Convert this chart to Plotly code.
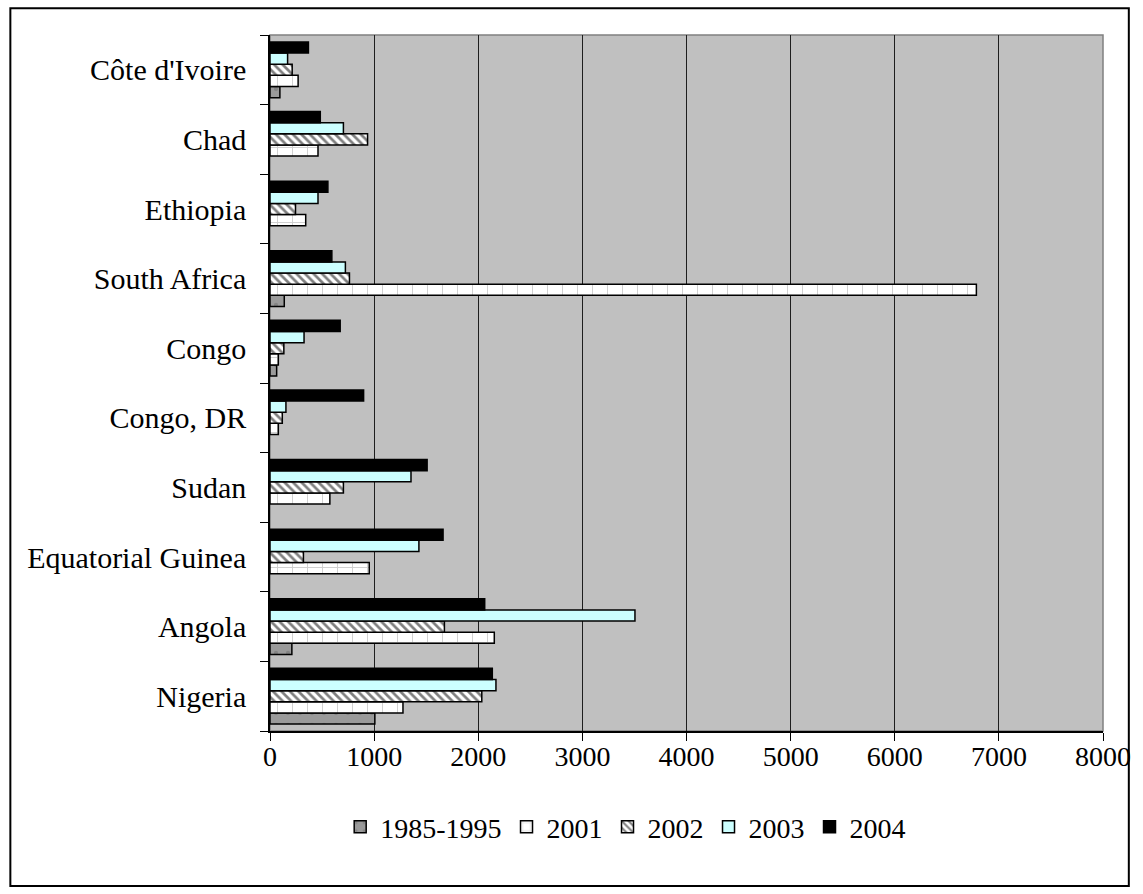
import plotly.graph_objects as go

countries = ["Nigeria", "Angola", "Equatorial Guinea", "Sudan", "Congo, DR",
             "Congo", "South Africa", "Ethiopia", "Chad", "Côte d'Ivoire"]

v_1985_1995 = [1007, 210, None, None, None, 64, 137, None, None, 95]
v_2001 = [1277, 2154, 953, 575, 80, 80, 6784, 343, 461, 270]
v_2002 = [2034, 1675, 321, 705, 118, 133, 763, 245, 937, 213]
v_2003 = [2170, 3505, 1430, 1354, 153, 327, 724, 461, 705, 169]
v_2004 = [2135, 2062, 1662, 1509, 899, 674, 594, 556, 483, 369]

x_ticks = [0, 1000, 2000, 3000, 4000, 5000, 6000, 7000, 8000]

FONT = "Liberation Serif, Times New Roman, serif"
edge = dict(color="black", width=1.5)

series = [
    ("1985-1995", v_1985_1995,
     dict(color="#9a9a9a", line=edge,
          pattern=dict(shape=".", fgcolor="#6e6e6e", bgcolor="#9a9a9a", size=12, solidity=0.1))),
    ("2001", v_2001,
     dict(color="white", line=edge,
          pattern=dict(shape="+", fgcolor="#9a9a9a", bgcolor="white", size=15, solidity=0.12))),
    ("2002", v_2002,
     dict(color="white", line=edge,
          pattern=dict(shape="\\", fgcolor="black", bgcolor="white", size=6, solidity=0.45))),
    ("2003", v_2003, dict(color="#ccffff", line=edge)),
    ("2004", v_2004, dict(color="black", line=edge)),
]

fig = go.Figure()
for name, vals, marker in series:
    fig.add_trace(go.Bar(
        y=countries, x=vals, name=name, orientation="h",
        marker=marker,
    ))

# plot frame and the outer chart border
fig.add_shape(type="rect", xref="paper", yref="paper", x0=0, x1=1, y0=0, y1=1,
              line=dict(color="#808080", width=1.5), layer="below")
fig.add_shape(type="rect", xref="paper", yref="paper",
              x0=-0.3117, x1=1.0310, y0=-0.2227, y1=1.0385,
              line=dict(color="black", width=2))

fig.update_layout(
    width=1143, height=894,
    margin=dict(l=270, r=34, t=35, b=163),
    paper_bgcolor="white",
    plot_bgcolor="#c0c0c0",
    barmode="group",
    bargap=0.2,
    bargroupgap=0,
    font=dict(family=FONT, size=28, color="black"),
    showlegend=True,
    legend=dict(
        orientation="h",
        x=0.427, xanchor="center",
        y=-0.138, yanchor="middle",
        font=dict(family=FONT, size=28, color="black"),
        itemwidth=30,
        traceorder="normal",
        bgcolor="rgba(0,0,0,0)",
    ),
    xaxis=dict(
        range=[0, 8000],
        tickvals=x_ticks,
        ticktext=[str(t) for t in x_ticks],
        showgrid=True, gridcolor="#1e1e1e", gridwidth=1,
        zeroline=False,
        showline=True, linecolor="black", linewidth=1.5,
        ticks="outside", ticklen=8, tickcolor="black", tickwidth=1,
        tickfont=dict(family=FONT, size=28),
        ticklabelstandoff=-8,
    ),
    yaxis=dict(
        type="category",
        categoryorder="array", categoryarray=countries,
        showgrid=False,
        showline=True, linecolor="black", linewidth=1.5,
        ticks="outside", ticklen=8, tickcolor="black", tickwidth=1,
        tickson="boundaries",
        tickfont=dict(family=FONT, size=30),
        ticklabelstandoff=16,
    ),
)

fig.write_html("out.html")
